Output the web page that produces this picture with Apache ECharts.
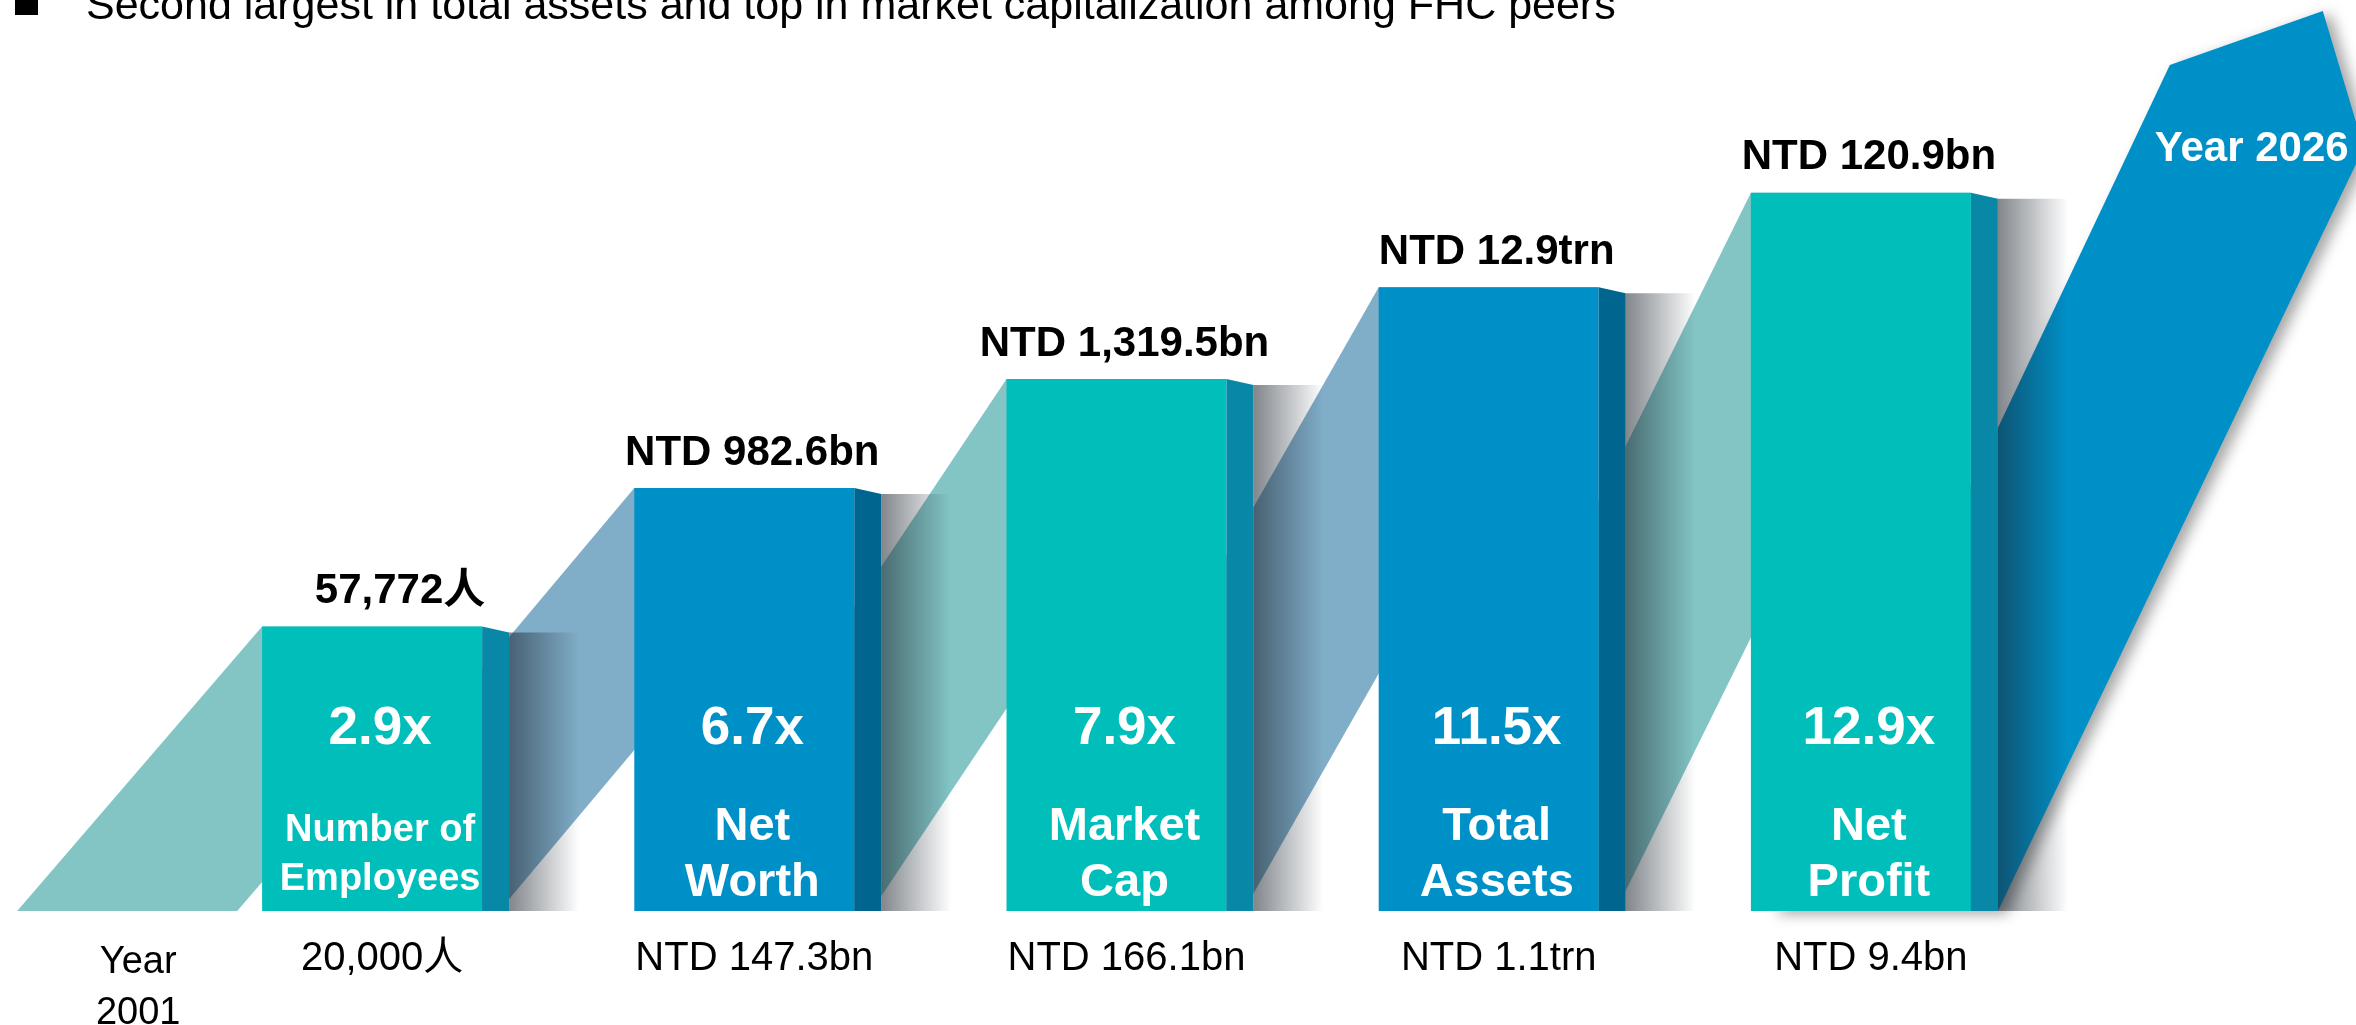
<!DOCTYPE html>
<html>
<head>
<meta charset="utf-8">
<script src="https://cdn.jsdelivr.net/npm/echarts@6/dist/echarts.min.js"></script>
<style>
html, body { margin: 0; padding: 0; background: #fff; }
#chart { width: 2356px; height: 1025px; }
</style>
</head>
<body>
<div id="chart"></div>
<script>
// values
var metrics = ['Number of\nEmployees', 'Net\nWorth', 'Market\nCap', 'Total\nAssets', 'Net\nProfit'];
var values2001 = ['20,000人', 'NTD 147.3bn', 'NTD 166.1bn', 'NTD 1.1trn', 'NTD 9.4bn'];
var valuesNow = ['57,772人', 'NTD 982.6bn', 'NTD 1,319.5bn', 'NTD 12.9trn', 'NTD 120.9bn'];
var growth = ['2.9x', '6.7x', '7.9x', '11.5x', '12.9x'];
// height of each step of the staircase (drawing units 0-100)
var stepLevels = [31.6, 47.0, 59.1, 69.3, 79.8];
// Year 2026 arrow: left shoulder, tip, right shoulder
var arrowLevels = [94, 100, 84.8];
var startYear = 'Year\n2001';
var endYear = 'Year 2026';
var title = 'Second largest in total assets and top in market capitalization among FHC peers';

var FONT = '"Liberation Sans", Arial, "Noto Sans CJK TC", sans-serif';
var FRONT_W = 220;
var SIDE_W = 27;
var palette = [
  { front: '#00BFBB', side: '#0888A6', ribbon: '#83C5C5' },
  { front: '#0090C8', side: '#00668F', ribbon: '#80ADC8' }
];

function txt(x, y, text, font, color, lh) {
  var st = {
    text: text, fill: color, font: font,
    align: 'center', verticalAlign: 'middle',
    textAlign: 'center', textVerticalAlign: 'middle'
  };
  if (lh) st.lineHeight = lh;
  return { type: 'text', x: x, y: y, style: st };
}

// ribbons rising from the ground to the top of each bar
function renderRibbon(params, api) {
  var i = params.dataIndex;
  var top = api.coord([i, api.value(1)]);
  var ground = api.coord([i, 0])[1];
  var band = api.size([1, 0])[0];
  var left = top[0] - FRONT_W / 2;
  var base = i === 0 ? left - 0.658 * band : api.coord([i - 1, 0])[0] - FRONT_W / 2 + 17;
  var children = [{
    type: 'polygon',
    shape: { points: [[base, ground], [left, top[1]], [left + FRONT_W, top[1]], [base + FRONT_W, ground]] },
    style: { fill: palette[i % 2].ribbon }
  }];
  if (i === 0) {
    children.push(txt(base + 121, ground + 77, startYear, '38px ' + FONT, '#000', 51));
  }
  return { type: 'group', children: children };
}

// soft shadow to the right of each bar
function renderShadow(params, api) {
  var i = params.dataIndex;
  var top = api.coord([i, api.value(1)]);
  var ground = api.coord([i, 0])[1];
  var x = top[0] + FRONT_W / 2 + SIDE_W;
  return {
    type: 'rect',
    shape: { x: x, y: top[1] + 6, width: 70, height: ground - top[1] - 6 },
    style: {
      fill: new echarts.graphic.LinearGradient(0, 0, 1, 0, [
        { offset: 0, color: 'rgba(25,35,45,0.55)' },
        { offset: 1, color: 'rgba(25,35,45,0)' }
      ])
    }
  };
}

function renderBar(params, api) {
  var i = params.dataIndex;
  var top = api.coord([i, api.value(1)]);
  var ground = api.coord([i, 0])[1];
  var left = top[0] - FRONT_W / 2;
  var right = left + FRONT_W;
  var pal = palette[i % 2];
  var cx = top[0] + 8;
  var small = i === 0;
  return {
    type: 'group',
    children: [
      { type: 'rect', shape: { x: left, y: top[1], width: FRONT_W, height: ground - top[1] }, style: { fill: pal.front } },
      { type: 'polygon', shape: { points: [[right, top[1]], [right + SIDE_W, top[1] + 6], [right + SIDE_W, ground], [right, ground]] }, style: { fill: pal.side } },
      txt(cx, ground - 182, growth[i], 'bold 53px ' + FONT, '#fff'),
      txt(cx, ground - 56, metrics[i], 'bold ' + (small ? 38 : 47) + 'px ' + FONT, '#fff', small ? 49 : 56),
      txt(cx + (i === 0 ? 20 : 0), top[1] - 35, valuesNow[i], 'bold 42px ' + FONT, '#000'),
      txt(top[0] + 10, ground + 48, values2001[i], '40px ' + FONT, '#000')
    ]
  };
}

function renderArrow(params, api) {
  var last = metrics.length - 1;
  var c = api.coord([last, 0]);
  var band = api.size([1, 0])[0];
  var cx = c[0], ground = c[1];
  var yL = api.coord([last, arrowLevels[0]])[1];
  var yT = api.coord([last, arrowLevels[1]])[1];
  var yR = api.coord([last, arrowLevels[2]])[1];
  return {
    type: 'group',
    children: [
      {
        type: 'polygon',
        shape: { points: [
          [cx - 0.247 * band, ground],
          [cx + 0.83 * band, yL],
          [cx + 1.241 * band, yT],
          [cx + 1.351 * band, yR],
          [cx + 0.368 * band, ground]
        ] },
        style: { fill: '#0090C8', shadowBlur: 14, shadowColor: 'rgba(0,0,0,0.35)', shadowOffsetX: 8, shadowOffsetY: 3 }
      },
      txt(cx + 1.05 * band, api.coord([last, 84.6])[1], endYear, 'bold 42px ' + FONT, '#fff')
    ]
  };
}

var chart = echarts.init(document.getElementById('chart'));
var pts = stepLevels.map(function (v, i) { return [i, v]; });

chart.setOption({
  animation: false,
  backgroundColor: '#fff',
  grid: { left: 186, right: 309, top: 11, bottom: 114 },
  xAxis: { type: 'category', data: metrics, show: false },
  yAxis: { type: 'value', min: 0, max: 100, show: false },
  graphic: [
    { type: 'rect', shape: { x: 15, y: -8, width: 23, height: 23 }, style: { fill: '#000' } },
    { type: 'text', x: 86, y: 7, style: { text: title, font: '43px ' + FONT, fill: '#000', verticalAlign: 'middle', textVerticalAlign: 'middle' } }
  ],
  series: [
    { type: 'custom', name: 'arrow', z: 1, clip: false, data: [[metrics.length - 1, arrowLevels[1]]], encode: { x: 0, y: 1 }, renderItem: renderArrow },
    { type: 'custom', name: 'ribbons', z: 2, clip: false, data: pts, encode: { x: 0, y: 1 }, renderItem: renderRibbon },
    { type: 'custom', name: 'shadows', z: 3, clip: false, data: pts, encode: { x: 0, y: 1 }, renderItem: renderShadow },
    { type: 'custom', name: 'bars', z: 4, clip: false, data: pts, encode: { x: 0, y: 1 }, renderItem: renderBar }
  ]
});
</script>
</body>
</html>
